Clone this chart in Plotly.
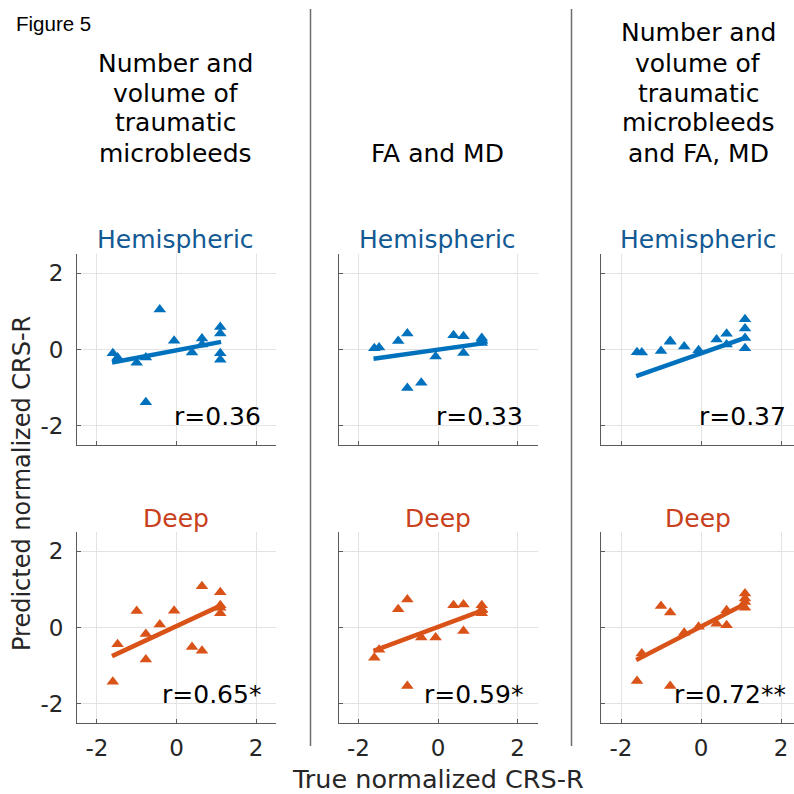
import plotly.graph_objects as go
from plotly.subplots import make_subplots

# ---------------- data ----------------
true_x = [-1.6, -1.48, -1.0, -0.77, -0.77, -0.42, -0.06, 0.39, 0.64, 0.64, 1.1, 1.1, 1.1, 1.1]

hem_tmb = [-0.10, -0.21, -0.35, -0.21, -1.38, 1.05, 0.23, -0.08, 0.29, 0.13, 0.59, 0.42, -0.10, -0.27]
hem_dti = [0.03, 0.05, 0.22, 0.42, -1.01, -0.87, -0.18, 0.37, 0.35, -0.09, 0.30, 0.22, 0.17, 0.25]
hem_all = [-0.07, -0.08, -0.04, 0.22, 0.20, 0.08, -0.02, 0.26, 0.41, 0.13, 0.79, 0.55, 0.03, 0.30]

deep_tmb = [-1.42, -0.44, 0.43, -0.17, -0.84, 0.08, 0.44, -0.51, 1.08, -0.61, 0.92, 0.52, 0.37, 0.58]
deep_dti = [-0.79, -0.58, 0.48, 0.73, -1.53, -0.26, -0.26, 0.58, 0.60, -0.09, 0.58, 0.48, 0.37, 0.45]
deep_all = [-1.40, -0.68, 0.56, 0.39, -1.53, -0.14, 0.02, 0.10, 0.45, 0.06, 0.89, 0.76, 0.67, 0.52]

fit_x = [-1.62, 1.12]
fit_hem = [[-0.34, 0.20], [-0.24, 0.16], [-0.70, 0.31]]
fit_deep = [[-0.75, 0.58], [-0.61, 0.45], [-0.85, 0.63]]

r_hem = ["r=0.36", "r=0.33", "r=0.37"]
r_deep = ["r=0.65*", "r=0.59*", "r=0.72**"]

col_titles = [
    ["Number and", "volume of", "traumatic", "microbleeds"],
    ["FA and MD"],
    ["Number and", "volume of", "traumatic", "microbleeds", "and FA, MD"],
]
row_titles = ["Hemispheric", "Deep"]
tick_vals = [-2, 0, 2]
tick_text = ["-2", "0", "2"]

# ---------------- style ----------------
W = H = 794
FONT = "DejaVu Sans"
BLUE = "#0072BD"
ORANGE = "#D95319"
BLUE_T = "#135a94"
ORANGE_T = "#c8401c"
TXT = "#262626"

col_px = [(77, 276), (338.5, 537.5), (601, 794)]
row_px = [(254, 445), (532, 723)]
xranges = [[-2.5, 2.5], [-2.5, 2.5], [-2.5, -2.5 + 193 / 40.0]]

fig = make_subplots(rows=2, cols=3)

series = [[hem_tmb, hem_dti, hem_all], [deep_tmb, deep_dti, deep_all]]
fits = [fit_hem, fit_deep]
rtxt = [r_hem, r_deep]
colors = [BLUE, ORANGE]

for r in range(2):
    for c in range(3):
        fig.add_trace(go.Scatter(
            x=true_x, y=series[r][c], mode="markers",
            marker=dict(symbol="triangle-up", size=11, color=colors[r], line=dict(width=0)),
            showlegend=False, hoverinfo="skip"), row=r + 1, col=c + 1)
        fig.add_trace(go.Scatter(
            x=fit_x, y=fits[r][c], mode="lines",
            line=dict(color=colors[r], width=4.5),
            showlegend=False, hoverinfo="skip"), row=r + 1, col=c + 1)

annotations = []
for r in range(2):
    for c in range(3):
        idx = r * 3 + c + 1
        xa = "xaxis" if idx == 1 else f"xaxis{idx}"
        ya = "yaxis" if idx == 1 else f"yaxis{idx}"
        x0, x1 = col_px[c]
        y0, y1 = row_px[r]
        fig.layout[xa].update(
            domain=[x0 / W, x1 / W], range=xranges[c],
            tickvals=tick_vals, ticktext=tick_text, showticklabels=(r == 1),
            showgrid=True, gridcolor="#e3e3e3", gridwidth=1, zeroline=False,
            showline=True, linecolor="#5a5a5a", linewidth=1,
            ticks="inside", ticklen=4, tickcolor="#5a5a5a",
            tickfont=dict(family=FONT, size=23, color=TXT), ticklabelstandoff=4)
        fig.layout[ya].update(
            domain=[1 - y1 / H, 1 - y0 / H], range=[-2.5, 2.5],
            tickvals=tick_vals, ticktext=tick_text, showticklabels=(c == 0),
            showgrid=True, gridcolor="#e3e3e3", gridwidth=1, zeroline=False,
            showline=True, linecolor="#5a5a5a", linewidth=1,
            ticks="inside", ticklen=4, tickcolor="#5a5a5a",
            tickfont=dict(family=FONT, size=23, color=TXT), ticklabelstandoff=8)
        xr = "x" if idx == 1 else f"x{idx}"
        yr = "y" if idx == 1 else f"y{idx}"
        annotations.append(dict(
            x=2.18, y=-1.75, xref=xr, yref=yr, text=rtxt[r][c], showarrow=False,
            xanchor="right", yanchor="middle",
            font=dict(family=FONT, size=25, color="black")))

# row titles
row_title_y = [239, 518]
row_title_col = [BLUE_T, ORANGE_T]
col_centers = [175.5, 438, 698]
for r in range(2):
    for c in range(3):
        annotations.append(dict(
            x=col_centers[c] / W, y=1 - row_title_y[r] / H, xref="paper", yref="paper",
            text=row_titles[r], showarrow=False, xanchor="center", yanchor="middle",
            font=dict(family=FONT, size=25, color=row_title_col[r])))

# column titles (one annotation per line)
last_line_y = 153
for c in range(3):
    lines = col_titles[c]
    n = len(lines)
    for i, t in enumerate(lines):
        yy = last_line_y - (n - 1 - i) * 30
        annotations.append(dict(
            x=col_centers[c] / W, y=1 - yy / H, xref="paper", yref="paper",
            text=t, showarrow=False, xanchor="center", yanchor="middle",
            font=dict(family=FONT, size=25, color="black")))

# figure label and axis titles
annotations.append(dict(
    x=14 / W, y=1 - 23 / H, xref="paper", yref="paper", text="Figure 5",
    showarrow=False, xanchor="left", yanchor="middle",
    font=dict(family="Liberation Sans", size=20.5, color="black")))
annotations.append(dict(
    x=437.5 / W, y=1 - 779 / H, xref="paper", yref="paper", text="True normalized CRS-R",
    showarrow=False, xanchor="center", yanchor="middle",
    font=dict(family=FONT, size=25.5, color=TXT)))
annotations.append(dict(
    x=22 / W, y=1 - 484 / H, xref="paper", yref="paper", text="Predicted normalized CRS-R",
    showarrow=False, xanchor="center", yanchor="middle", textangle=-90,
    font=dict(family=FONT, size=24, color=TXT)))

shapes = []
for sx in [310.5, 571.5]:
    shapes.append(dict(type="line", xref="paper", yref="paper",
                       x0=sx / W, x1=sx / W, y0=1 - 9 / H, y1=1 - 746 / H,
                       line=dict(color="#6e6e6e", width=1.5)))

fig.update_layout(
    width=W, height=H, margin=dict(l=0, r=0, t=0, b=0),
    paper_bgcolor="white", plot_bgcolor="white",
    annotations=annotations, shapes=shapes,
    font=dict(family=FONT, color=TXT),
)

fig.write_html("out.html")
